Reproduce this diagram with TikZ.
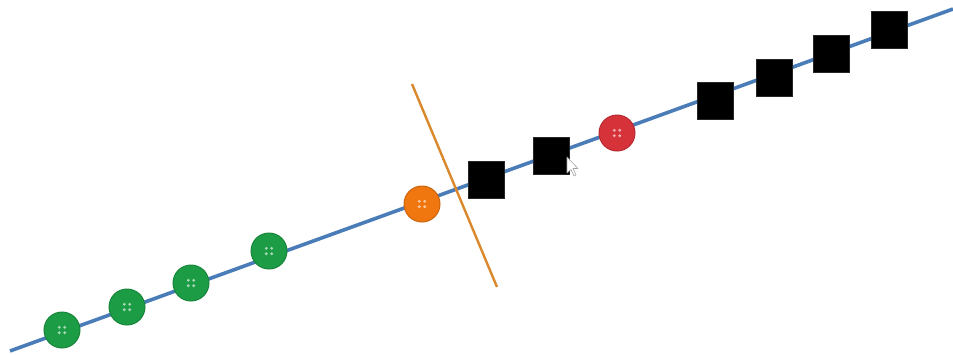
\documentclass[tikz,border=0pt]{standalone}
\begin{document}
\begin{tikzpicture}[x=1pt,y=-1pt,
  axis/.style={draw=axisblue,line width=3.6pt},
  cut/.style={draw=cutorange,line width=2.4pt},
  sample/.style={fill=black,draw=black!85,line width=0.6pt,minimum width=36pt,minimum height=37pt,inner sep=0pt},
  button/.style={circle,fill=#1,draw=#1!85!black,line width=1pt,minimum size=36pt,inner sep=0pt,
    path picture={
      \foreach \dx in {-2.7,2.7}{\foreach \dy in {-2.7,2.7}{
        \fill[white,opacity=0.6] ([xshift=\dx pt,yshift=\dy pt]path picture bounding box.center) circle (1.6pt);}}
    }},
]
\definecolor{axisblue}{RGB}{74,124,184}
\definecolor{cutorange}{RGB}{218,136,44}
\definecolor{btngreen}{RGB}{28,156,68}
\definecolor{btnorange}{RGB}{240,118,16}
\definecolor{btnred}{RGB}{214,50,58}
\useasboundingbox (0,0) rectangle (953,354);

% the axis
\coordinate (a0) at (10,351);
\coordinate (a1) at (953,9);
\draw[axis] (a0) -- (a1);

% separating cut
\coordinate (c0) at (412,84);
\coordinate (c1) at (497,287);
\draw[cut] (c0) -- (c1);

% green buttons
\node[button=btngreen] (g1) at (62,330) {};
\node[button=btngreen] (g2) at (127,307) {};
\node[button=btngreen] (g3) at (191,283) {};
\node[button=btngreen] (g4) at (269,251) {};
% orange and red buttons
\node[button=btnorange] (o1) at (422,204) {};
\node[button=btnred] (r1) at (617,133) {};

% black squares
\node[sample] (s1) at (486,180) {};
\node[sample] (s2) at (551,156) {};
\node[sample] (s3) at (715,101) {};
\node[sample] (s4) at (774,78) {};
\node[sample] (s5) at (831,54) {};
\node[sample] (s6) at (889,30) {};

% mouse pointer
\draw[gray!70,fill=white,line width=0.6pt,line join=round]
  (567,157) -- (567,173) -- (571,169.5) -- (574,176) -- (576,175) -- (573,168.5) -- (578,168.5) -- cycle;
\end{tikzpicture}
\end{document}
